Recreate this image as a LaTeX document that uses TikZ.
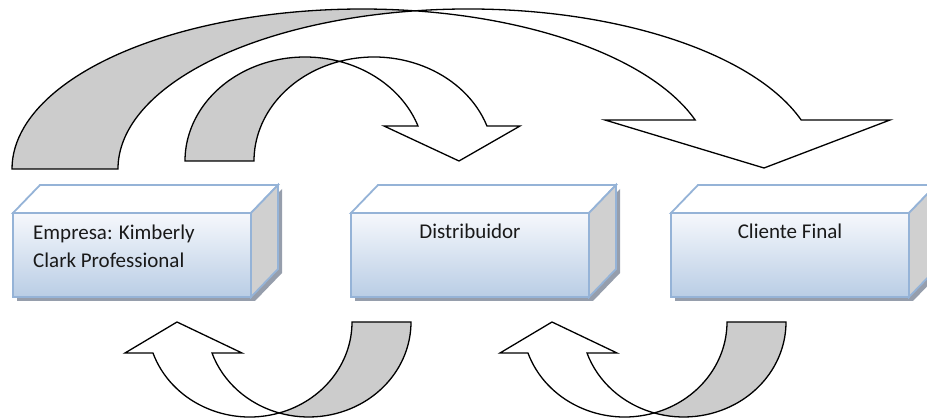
\documentclass[tikz,border=0pt]{standalone}
\usepackage{fontspec}
\setmainfont{Carlito}
\definecolor{boxborder}{RGB}{149,179,215}
\definecolor{facetop}{RGB}{246,248,252}
\definecolor{facebot}{RGB}{185,205,229}
\definecolor{sidegray}{RGB}{208,208,208}
\definecolor{arrowgray}{RGB}{204,204,204}
\definecolor{shadowc}{RGB}{150,158,172}
\newcommand{\drawcube}[3]{%
  \fill[shadowc] (#1+4,117) -- (#2+4,117) -- (#2+31,145) -- (#2+31,229) -- (#2+4,201) -- (#1+4,201) -- cycle;
  \node[frontbox, minimum width=#2pt-#1pt, anchor=south west] (#3) at (#1,121) {};
  \path[boxline, fill=white] (#3.north west) -- ++(27,28) -- ($(#3.north east)+(27,28)$) -- (#3.north east) -- cycle;
  \path[boxline, fill=sidegray] (#3.south east) -- (#3.north east) -- ++(27,28) -- ++(0,-84) -- cycle;
}
\usetikzlibrary{calc}
\begin{document}
\begin{tikzpicture}[x=1pt,y=1pt,
  arrowline/.style={draw=black, line width=1.3pt, line join=miter},
  backpart/.style={arrowline, fill=arrowgray},
  frontpart/.style={arrowline, fill=white},
  boxline/.style={draw=boxborder, line width=1.8pt, line join=miter},
  frontbox/.style={boxline, top color=facetop, bottom color=facebot, minimum height=84pt, inner sep=0pt, outer sep=0pt},
  lbl/.style={font=\fontsize{21}{28}\selectfont, inner sep=0pt, text=black!90}]
\useasboundingbox (0,0) rectangle (927,418);

% boxes
\drawcube{13}{251}{emp}
\drawcube{351}{589}{dist}
\drawcube{671}{909}{cli}

\node[lbl, anchor=base west] (t1) at (33,178) {Empresa: Kimberly};
\node[lbl, anchor=base west] (t2) at (33,150) {Clark Professional};
\node[lbl, anchor=base] (t3) at (470,179) {Distribuidor};
\node[lbl, anchor=base] (t4) at (790,179) {Cliente Final};

% big top arrow: Empresa -> Cliente Final
\path[backpart] (12,249) arc[start angle=180, end angle=81.29, x radius=350pt, y radius=160pt]
  arc[start angle=98.71, end angle=180, x radius=350pt, y radius=160pt] -- cycle;
\path[frontpart] (415,407.16) arc[start angle=98.71, end angle=17.83, x radius=350pt, y radius=160pt]
  -- (890,298) -- (764,250) -- (605,298) -- (695.17,298)
  arc[start angle=17.83, end angle=81.29, x radius=350pt, y radius=160pt] -- cycle;

% small top arrow: Empresa -> Distribuidor
\path[backpart] (185,257) arc[start angle=180, end angle=73.29, x radius=120pt, y radius=104pt]
  arc[start angle=106.71, end angle=180, x radius=120pt, y radius=104pt] -- cycle;
\path[frontpart] (339.48,356.6) arc[start angle=106.71, end angle=19.67, x radius=120pt, y radius=104pt]
  -- (520,292) -- (459,257) -- (384,292) -- (418,292)
  arc[start angle=19.67, end angle=73.29, x radius=120pt, y radius=104pt] -- cycle;

% bottom arrows
\foreach \sh in {0,375}{
\begin{scope}[xshift=\sh pt]
\path[backpart] (411,96) arc[start angle=0, end angle=-106.76, x radius=102.3pt, y radius=95pt]
  arc[start angle=-73.24, end angle=0, x radius=102.3pt, y radius=95pt] -- cycle;
\path[frontpart] (279.18,5.04) arc[start angle=-73.24, end angle=-160.95, x radius=102.3pt, y radius=95pt]
  -- (125,65) -- (177,96) -- (242,65) -- (212,65)
  arc[start angle=-160.95, end angle=-106.76, x radius=102.3pt, y radius=95pt] -- cycle;
\end{scope}
}
\end{tikzpicture}
\end{document}
